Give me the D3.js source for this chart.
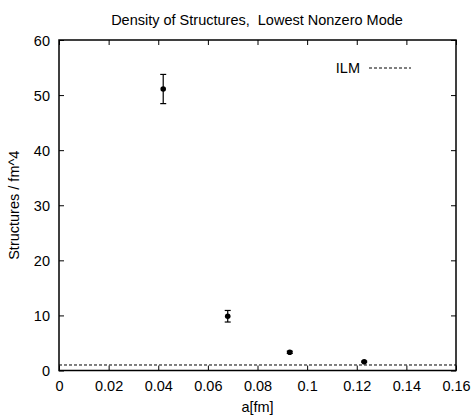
<!DOCTYPE html>
<html><head><meta charset="utf-8">
<script src="https://cdn.jsdelivr.net/npm/d3@7"></script>
<style>body{margin:0;background:#fff}svg{display:block}text{font-family:"Liberation Sans",Arial,sans-serif;fill:#000;white-space:pre}</style>
</head><body>
<script>
const aValues = [0.042, 0.068, 0.093, 0.123];
const density = [51.1, 9.85, 3.3, 1.6];
const densityErr = [2.65, 1.05, 0.2, 0.1];
const ilmValue = 1.0;
const xTicks = [0, 0.02, 0.04, 0.06, 0.08, 0.1, 0.12, 0.14, 0.16];
const yTicks = [0, 10, 20, 30, 40, 50, 60];
const title = "Density of Structures,  Lowest Nonzero Mode";
const xLabel = "a[fm]";
const yLabel = "Structures / fm^4";
const legendLabel = "ILM";

const W = 472, H = 415;
const m = {l: 59, r: 16, t: 40, b: 44.5};
const svg = d3.select("body").append("svg").attr("width", W).attr("height", H);
const x = d3.scaleLinear().domain([0, 0.16]).range([m.l, W - m.r]);
const y = d3.scaleLinear().domain([0, 60]).range([H - m.b, m.t]);
const fs = 14.5;

// ILM dashed line
svg.append("line").attr("x1", x(0)).attr("x2", x(0.16)).attr("y1", y(ilmValue)).attr("y2", y(ilmValue))
  .attr("stroke", "#000").attr("stroke-width", 1).attr("stroke-dasharray", "3,2");

// axes with inward ticks (mirror)
const tl = 5;
const fmtX = d => d === 0 ? "0" : String(+d.toFixed(2));
const gB = svg.append("g").attr("transform", `translate(0,${y(0)})`)
  .call(d3.axisBottom(x).tickValues(xTicks).tickFormat(fmtX).tickSizeInner(-tl).tickSizeOuter(0).tickPadding(8));
const gT = svg.append("g").attr("transform", `translate(0,${y(60)})`)
  .call(d3.axisTop(x).tickValues(xTicks).tickFormat("").tickSizeInner(-tl).tickSizeOuter(0));
const gL = svg.append("g").attr("transform", `translate(${x(0)},0)`)
  .call(d3.axisLeft(y).tickValues(yTicks).tickSizeInner(-tl).tickSizeOuter(0).tickPadding(9));
const gR = svg.append("g").attr("transform", `translate(${x(0.16)},0)`)
  .call(d3.axisRight(y).tickValues(yTicks).tickFormat("").tickSizeInner(-tl).tickSizeOuter(0));
[gB, gT, gL, gR].forEach(g => {
  g.select(".domain").remove();
  g.selectAll("line").attr("stroke", "#000").attr("stroke-width", 1);
  g.selectAll("text").attr("font-size", fs).attr("font-family", "Liberation Sans, Arial, sans-serif").attr("fill", "#000");
});
gB.selectAll("text").attr("dy", null).attr("y", 20.5);
gL.selectAll("text").attr("dy", "0.36em");

svg.append("rect").attr("x", x(0)).attr("y", y(60)).attr("width", x(0.16) - x(0)).attr("height", y(0) - y(60))
  .attr("fill", "none").attr("stroke", "#000").attr("stroke-width", 1.5);

// error bars
const cap = 3;
const pts = aValues.map((a, i) => ({a, v: density[i], e: densityErr[i]}));
const eb = svg.append("g").attr("stroke", "#000").attr("stroke-width", 1.2);
pts.forEach(p => {
  eb.append("line").attr("x1", x(p.a)).attr("x2", x(p.a)).attr("y1", y(p.v - p.e)).attr("y2", y(p.v + p.e));
  [p.v - p.e, p.v + p.e].forEach(v => eb.append("line").attr("x1", x(p.a) - cap).attr("x2", x(p.a) + cap).attr("y1", y(v)).attr("y2", y(v)));
});
svg.append("g").selectAll("circle").data(pts).join("circle")
  .attr("cx", d => x(d.a)).attr("cy", d => y(d.v)).attr("r", 2.8).attr("fill", "#000");

// legend
svg.append("text").attr("x", 360).attr("y", 68).attr("dy", "0.36em").attr("text-anchor", "end").attr("font-size", fs).text(legendLabel);
svg.append("line").attr("x1", 369).attr("x2", 411).attr("y1", 68).attr("y2", 68)
  .attr("stroke", "#000").attr("stroke-width", 1).attr("stroke-dasharray", "3,2");

// title and labels
svg.append("text").attr("x", 257).attr("y", 25).attr("text-anchor", "middle").attr("font-size", fs).text(title);
svg.append("text").attr("x", (x(0) + x(0.16)) / 2).attr("y", 412).attr("text-anchor", "middle").attr("font-size", fs).text(xLabel);
svg.append("text").attr("transform", `translate(19,${(y(0) + y(60)) / 2}) rotate(-90)`).attr("text-anchor", "middle").attr("font-size", fs).text(yLabel);
</script>
</body></html>
